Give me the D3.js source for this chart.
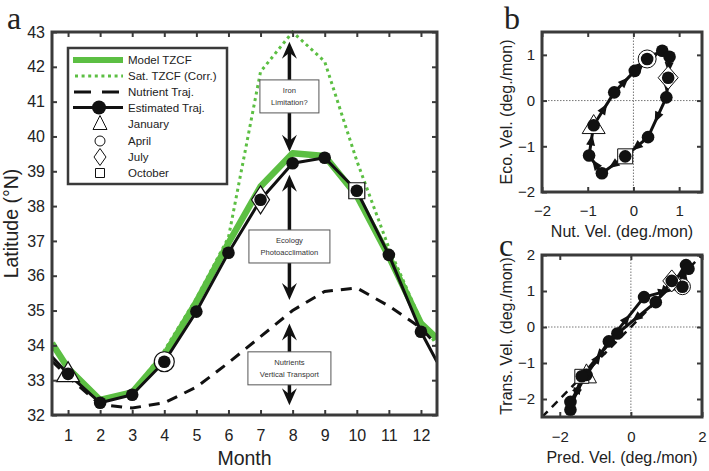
<!DOCTYPE html>
<html><head><meta charset="utf-8">
<script src="https://cdn.jsdelivr.net/npm/d3@7"></script>
<style>body{margin:0;background:#fff}svg{display:block}</style>
</head><body>
<svg id="chart" width="709" height="471"></svg>
<script>
// ---------- DATA ----------
const monthTicks = [1,2,3,4,5,6,7,8,9,10,11,12];
const monthsX = [0.5,1,2,3,4,5,6,7,8,9,10,11,12,12.5];
const modelTZCF     = [34.06,33.34,32.43,32.65,33.72,35.25,36.94,38.56,39.52,39.44,38.30,36.55,34.63,34.20];
const satTZCF       = [34.00,33.30,32.40,32.65,33.85,35.35,37.10,41.86,43.00,42.15,39.30,36.80,34.70,34.00];
const nutrientTraj  = [33.55,33.10,32.30,32.20,32.35,32.80,33.50,34.25,35.00,35.55,35.65,35.13,34.50,34.00];
const estimatedTraj = [33.67,33.18,32.35,32.58,33.53,34.97,36.66,38.18,39.23,39.39,38.44,36.60,34.39,33.53];
const latTicks = [32,33,34,35,36,37,38,39,40,41,42,43];
const legendLabels = ["Model TZCF","Sat. TZCF (Corr.)","Nutrient Traj.","Estimated Traj.","January","April","July","October"];
const markerMonths = [1,4,7,10];          // January, April, July, October
const markerShapes = ["triangle","circle","diamond","square"];
// annotation arrows (month, from lat, to lat) and boxes
const arrowMonth = 7.9;
const arrowSpans = [[42.72,39.56],[38.90,35.30],[34.63,32.28]];
const boxLabels = [["Iron","Limitation?"],["Ecology","Photoacclimation"],["Nutrients","Vertical Transport"]];
const boxLats = [41.15,36.84,33.34];
// panel b
const nutVel = [-0.87,-0.42,0.03,0.30,0.63,0.79,0.76,0.72,0.32,-0.18,-0.69,-0.97];
const ecoVel = [-0.54,0.18,0.65,0.91,1.09,0.96,0.50,0.07,-0.80,-1.22,-1.59,-1.20];
const bTicks = [-2,-1,0,1];
// panel c
const predVel  = [-1.25,-0.62,0.37,1.45,1.55,1.62,1.15,0.70,-0.38,-1.38,-1.70,-1.70];
const transVel = [-1.33,-0.40,0.83,1.12,1.72,1.62,1.28,0.69,-0.18,-1.37,-2.30,-2.08];
const cXTicks = [-2,0,2];
const cYTicks = [-2,-1,0,1,2];

// ---------- STYLE ----------
const SANS = "'Liberation Sans', Arial, Helvetica, sans-serif";
const SERIF = "'Liberation Serif', 'DejaVu Serif', serif";
const FRAME = "#3a3a3a";
const GREEN = "#5cbf43";
const svg = d3.select("#chart");

// ---------- helpers ----------
function shapePath(type, s) {
  switch (type) {
    case "triangle": return `M0,${-s.th} L${s.tw},${s.tb} L${-s.tw},${s.tb} Z`;
    case "circle": return d3.arc()({innerRadius:0, outerRadius:s.cr, startAngle:0, endAngle:2*Math.PI});
    case "diamond": return `M0,${-s.dh} L${s.dw},0 L0,${s.dh} L${-s.dw},0 Z`;
    case "square": return `M${-s.sq},${-s.sq} H${s.sq} V${s.sq} H${-s.sq} Z`;
  }
}
function frameAxes(g, x, y, xt, yt, opt) {
  const tl = 5;
  const bx = g.append("g").attr("transform",`translate(0,${y.range()[0]})`)
    .call(d3.axisBottom(x).tickValues(xt.marks).tickSize(-tl).tickPadding(opt.xpad)
      .tickFormat(d => xt.labels.includes(d) ? d3.format("")(d).replace("-","\u2212") : ""));
  const tx = g.append("g").attr("transform",`translate(0,${y.range()[1]})`)
    .call(d3.axisTop(x).tickValues(xt.marks).tickSize(-tl).tickFormat(""));
  const ly = g.append("g").attr("transform",`translate(${x.range()[0]},0)`)
    .call(d3.axisLeft(y).tickValues(yt.marks).tickSize(-tl).tickPadding(opt.ypad)
      .tickFormat(d => yt.labels.includes(d) ? d3.format("")(d).replace("-","\u2212") : ""));
  const ry = g.append("g").attr("transform",`translate(${x.range()[1]},0)`)
    .call(d3.axisRight(y).tickValues(yt.marks).tickSize(-tl).tickFormat(""));
  [bx,tx,ly,ry].forEach(a => {
    a.select(".domain").remove();
    a.selectAll(".tick line").attr("stroke",FRAME).attr("stroke-width",2);
    a.selectAll("text").attr("font-family",SANS).attr("font-size",opt.fs).attr("fill","#222");
  });
  g.append("rect").attr("x",x.range()[0]).attr("y",y.range()[1])
    .attr("width",x.range()[1]-x.range()[0]).attr("height",y.range()[0]-y.range()[1])
    .attr("fill","none").attr("stroke",FRAME).attr("stroke-width",3);
}

// ================= PANEL A =================
const xa = d3.scaleLinear().domain([0.5,12.5]).range([52,437]);
const ya = d3.scaleLinear().domain([32,43]).range([415,32]);
const ga = svg.append("g");
ga.append("defs").append("clipPath").attr("id","clipA").append("rect")
  .attr("x",52).attr("y",30).attr("width",385).attr("height",386);
const plotA = ga.append("g").attr("clip-path","url(#clipA)");
const lineA = d3.line().x((d,i)=>xa(monthsX[i])).y(d=>ya(d));

plotA.append("path").datum(modelTZCF).attr("d",lineA).attr("fill","none")
  .attr("stroke",GREEN).attr("stroke-width",6.5).attr("stroke-linejoin","round");
plotA.append("path").datum(satTZCF).attr("d",lineA).attr("fill","none")
  .attr("stroke",GREEN).attr("stroke-width",3).attr("stroke-dasharray","3,3.6");
plotA.append("path").datum(nutrientTraj).attr("d",lineA).attr("fill","none")
  .attr("stroke","#111").attr("stroke-width",3).attr("stroke-dasharray","11,8");
plotA.append("path").datum(estimatedTraj).attr("d",lineA).attr("fill","none")
  .attr("stroke","#111").attr("stroke-width",3).attr("stroke-linejoin","round");

// arrows
const headDown = "M0,0 L-7.5,-17 L0,-11 L7.5,-17 Z";
arrowSpans.forEach(([a,b]) => {
  const xx = xa(arrowMonth), y1 = ya(a), y2 = ya(b);
  ga.append("line").attr("x1",xx).attr("x2",xx).attr("y1",y1+10).attr("y2",y2-10)
    .attr("stroke","#111").attr("stroke-width",3.5);
  ga.append("path").attr("d",headDown).attr("fill","#111")
    .attr("transform",`translate(${xx},${y1}) rotate(180)`);
  ga.append("path").attr("d",headDown).attr("fill","#111")
    .attr("transform",`translate(${xx},${y2})`);
});
// boxes
const boxW = [59,81,83];
boxLabels.forEach((lbl,i) => {
  const cx = xa(arrowMonth), cy = ya(boxLats[i]);
  ga.append("rect").attr("x",cx-boxW[i]/2).attr("y",cy-16.5).attr("width",boxW[i]).attr("height",33)
    .attr("fill","#fff").attr("stroke","#555").attr("stroke-width",1);
  lbl.forEach((t,j) => {
    ga.append("text").attr("x",cx).attr("y",cy + (j===0?-3:8.5)).attr("text-anchor","middle")
      .attr("font-family",SANS).attr("font-size",7.6).attr("fill","#333").text(t);
  });
});

// month markers and dots
const sizeA = {th:12.3, tb:7.7, tw:11.5, cr:10, dh:14, dw:9, sq:8};
markerMonths.forEach((m,i) => {
  const idx = monthsX.indexOf(m);
  ga.append("path").attr("d",shapePath(markerShapes[i],sizeA))
    .attr("transform",`translate(${xa(m)},${ya(estimatedTraj[idx])})`)
    .attr("fill","#fff").attr("stroke","#111").attr("stroke-width",1.2);
});
ga.selectAll("circle.dotA").data(monthTicks).join("circle").attr("class","dotA")
  .attr("cx",m=>xa(m)).attr("cy",m=>ya(estimatedTraj[monthsX.indexOf(m)])).attr("r",6.3).attr("fill","#111");

frameAxes(ga, xa, ya, {marks:monthTicks, labels:monthTicks}, {marks:latTicks, labels:latTicks},
  {xpad:14.6, ypad:7, fs:16});

// legend
const lg = ga.append("g");
lg.append("rect").attr("x",68).attr("y",48).attr("width",159).attr("height",136)
  .attr("fill","#fff").attr("stroke",FRAME).attr("stroke-width",2.5);
const legY = [60,76,92,107.5,124,141,157,173];
const lx1 = 73, lx2 = 123, lmx = 99;
lg.append("line").attr("x1",lx1).attr("x2",lx2).attr("y1",legY[0]).attr("y2",legY[0])
  .attr("stroke",GREEN).attr("stroke-width",6);
lg.append("line").attr("x1",lx1+2).attr("x2",lx2).attr("y1",legY[1]).attr("y2",legY[1])
  .attr("stroke",GREEN).attr("stroke-width",3).attr("stroke-dasharray","3,3.6");
lg.append("line").attr("x1",lx1+1).attr("x2",lx2).attr("y1",legY[2]).attr("y2",legY[2])
  .attr("stroke","#111").attr("stroke-width",3).attr("stroke-dasharray","17,11");
lg.append("line").attr("x1",lx1).attr("x2",lx2).attr("y1",legY[3]).attr("y2",legY[3])
  .attr("stroke","#111").attr("stroke-width",3);
lg.append("circle").attr("cx",lmx).attr("cy",legY[3]).attr("r",7).attr("fill","#111");
const sizeL = {th:8.5, tb:5.5, tw:7, cr:5, dh:8.5, dw:6, sq:4.5};
markerShapes.forEach((s,i) => {
  lg.append("path").attr("d",shapePath(s,sizeL))
    .attr("transform",`translate(${lmx+1},${legY[4+i]})`)
    .attr("fill","#fff").attr("stroke","#111").attr("stroke-width",1);
});
legendLabels.forEach((t,i) => {
  lg.append("text").attr("x",128).attr("y",legY[i]).attr("dy","0.36em")
    .attr("font-family",SANS).attr("font-size",11.5).attr("fill","#222").text(t);
});

// axis labels
ga.append("text").attr("x",244.5).attr("y",465).attr("text-anchor","middle")
  .attr("font-family",SANS).attr("font-size",19.5).attr("fill","#222").text("Month");
ga.append("text").attr("transform","translate(18,223.5) rotate(-90)").attr("text-anchor","middle")
  .attr("font-family",SANS).attr("font-size",19.5).attr("fill","#222").text("Latitude (\u00B0N)");
svg.append("text").attr("x",7).attr("y",29).attr("font-family",SERIF).attr("font-size",32)
  .attr("fill","#222").text("a");

// ================= loop panels =================
function loopPanel(xs, ys, xv, yv, sizeM, opts) {
  const g = svg.append("g");
  const [x0,x1] = xs.range(), [y0,y1] = ys.range();
  const cid = "clip" + opts.id;
  g.append("defs").append("clipPath").attr("id",cid).append("rect")
    .attr("x",x0).attr("y",y1).attr("width",x1-x0).attr("height",y0-y1);
  const p = g.append("g").attr("clip-path",`url(#${cid})`);
  p.append("line").attr("x1",xs(0)).attr("x2",xs(0)).attr("y1",y0).attr("y2",y1)
    .attr("stroke","#777").attr("stroke-width",1).attr("stroke-dasharray","1.5,1.5");
  p.append("line").attr("x1",x0).attr("x2",x1).attr("y1",ys(0)).attr("y2",ys(0))
    .attr("stroke","#777").attr("stroke-width",1).attr("stroke-dasharray","1.5,1.5");
  if (opts.diag) {
    const d0 = Math.max(xs.domain()[0], ys.domain()[0]), d1 = Math.min(xs.domain()[1], ys.domain()[1]);
    p.append("line").attr("x1",xs(d0)).attr("y1",ys(d0)).attr("x2",xs(d1)).attr("y2",ys(d1))
      .attr("stroke","#111").attr("stroke-width",2.5).attr("stroke-dasharray","8,6");
  }
  const pts = xv.map((v,i)=>[xs(v), ys(yv[i])]);
  p.append("path").attr("d",d3.line().curve(d3.curveLinearClosed)(pts))
    .attr("fill","none").attr("stroke","#111").attr("stroke-width",3).attr("stroke-linejoin","round");
  pts.forEach((a,i) => {
    const b = pts[(i+1)%pts.length];
    const ang = Math.atan2(b[1]-a[1], b[0]-a[0])*180/Math.PI;
    p.append("path").attr("d","M6,0 L-5,-4.5 L-5,4.5 Z").attr("fill","#111")
      .attr("transform",`translate(${(a[0]+b[0])/2},${(a[1]+b[1])/2}) rotate(${ang})`);
  });
  markerMonths.forEach((m,i) => {
    const k = m-1;
    p.append("path").attr("d",shapePath(markerShapes[i],sizeM))
      .attr("transform",`translate(${pts[k][0]},${pts[k][1]})`)
      .attr("fill","#fff").attr("stroke","#111").attr("stroke-width",1);
  });
  p.selectAll("circle.dot").data(pts).join("circle").attr("class","dot")
    .attr("cx",d=>d[0]).attr("cy",d=>d[1]).attr("r",6.3).attr("fill","#111");
  frameAxes(g, xs, ys, opts.xt, opts.yt, {xpad:opts.xpad, ypad:7, fs:15});
  g.append("text").attr("x",(x0+x1)/2).attr("y",opts.xlabY).attr("text-anchor","middle")
    .attr("font-family",SANS).attr("font-size",16).attr("fill","#222").text(opts.xlab);
  g.append("text").attr("transform",`translate(512,${(y0+y1)/2}) rotate(-90)`).attr("text-anchor","middle")
    .attr("font-family",SANS).attr("font-size",16).attr("fill","#222").text(opts.ylab);
  svg.append("text").attr("x",opts.letterX).attr("y",opts.letterY).attr("font-family",SERIF)
    .attr("font-size",32).attr("fill","#222").text(opts.letter);
}

const xb = d3.scaleLinear().domain([-2,1.5]).range([542,702]);
const yb = d3.scaleLinear().domain([-2,1.5]).range([192,32]);
loopPanel(xb, yb, nutVel, ecoVel, {th:10.7, tb:8.3, tw:11.5, cr:9, dh:11.5, dw:10, sq:7.5},
  {id:"B", xt:{marks:bTicks, labels:bTicks}, yt:{marks:bTicks, labels:bTicks}, xpad:13,
   xlab:"Nut. Vel. (deg./mon)", xlabY:237, ylab:"Eco. Vel. (deg./mon)", letter:"b", letterX:504, letterY:29});

const xc = d3.scaleLinear().domain([-2.5,2]).range([542,702]);
const yc = d3.scaleLinear().domain([-2.5,2]).range([417,255]);
loopPanel(xc, yc, predVel, transVel, {th:11, tb:8, tw:10, cr:8, dh:11, dw:9, sq:7},
  {id:"C", diag:true, xt:{marks:cXTicks, labels:cXTicks}, yt:{marks:cYTicks, labels:cYTicks}, xpad:14,
   xlab:"Pred. Vel. (deg./mon)", xlabY:463, ylab:"Trans. Vel. (deg./mon)", letter:"c", letterX:499, letterY:256});
</script>
</body></html>
